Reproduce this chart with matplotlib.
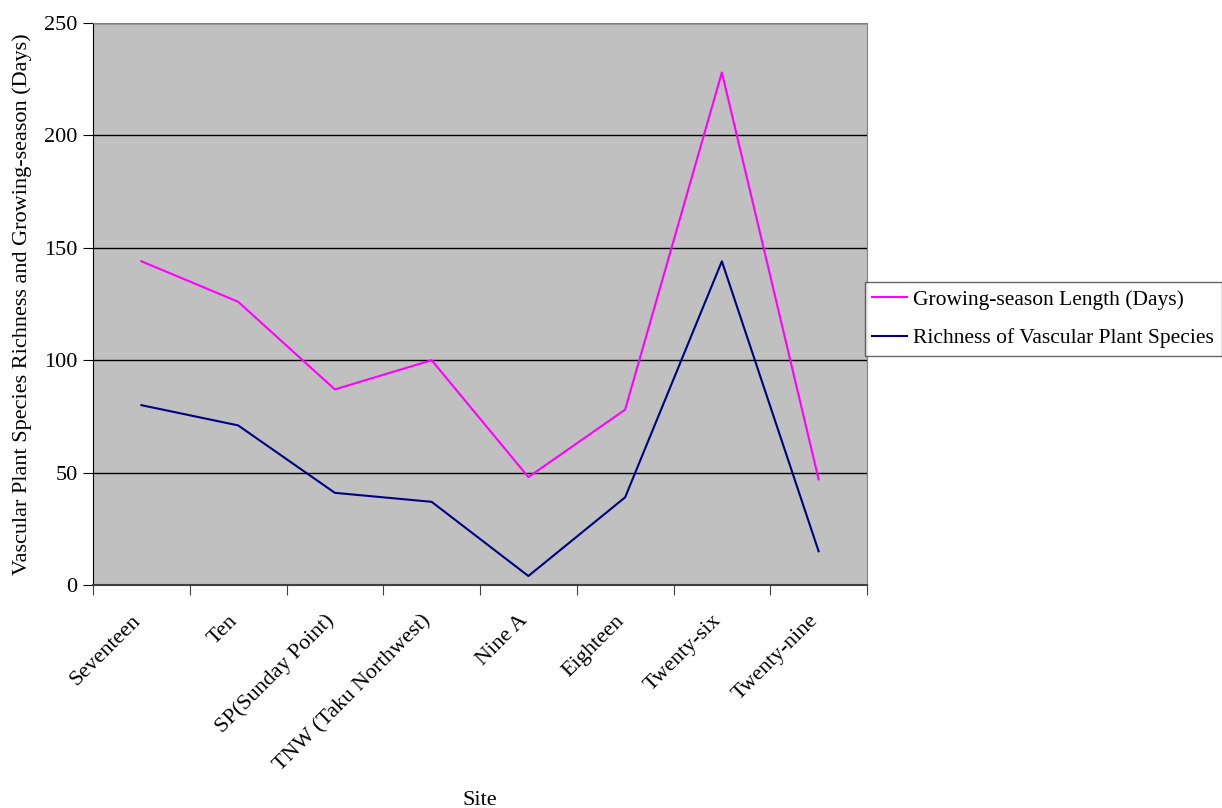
import numpy as np
import matplotlib.pyplot as plt

plt.rcParams['font.family'] = ['Liberation Serif', 'DejaVu Serif']

sites = ["Seventeen", "Ten", "SP(Sunday Point)", "TNW (Taku Northwest)",
         "Nine A", "Eighteen", "Twenty-six", "Twenty-nine"]
growing_season = [144, 126, 87, 100, 48, 78, 228, 47]
richness = [80, 71, 41, 37, 4, 39, 144, 15]

fig = plt.figure(figsize=(12.22, 8.08), dpi=100)
ax = fig.add_axes([93/1222, 1 - 585/808, (867-93)/1222, (585-23)/808])
ax.set_facecolor('#C0C0C0')

x = np.arange(len(sites))
ax.plot(x, growing_season, color='#FF00FF', lw=1.5, label='Growing-season Length (Days)')
ax.plot(x, richness, color='#000080', lw=1.5, label='Richness of Vascular Plant Species')

ax.set_xlim(-0.5, len(sites) - 0.5)
ax.set_ylim(0, 250)
ax.set_yticks(np.arange(0, 251, 50))
ax.yaxis.grid(True, color='black', lw=1)
ax.set_axisbelow(True)

# category ticks sit between the categories, labels under the centers
ax.set_xticks(np.arange(-0.5, len(sites)), minor=False)
ax.set_xticklabels([])
ax.set_xticks(x, minor=True)
ax.set_xticklabels(sites, minor=True, rotation=45, ha='right', va='baseline',
                   rotation_mode='anchor', fontsize=16)
ax.tick_params(axis='x', which='minor', length=0, pad=26)
ax.tick_params(axis='x', which='major', length=7, direction='out', color='#404040')
ax.tick_params(axis='y', length=7, direction='out', labelsize=16, pad=4)

for s in ['top', 'right']:
    ax.spines[s].set_color('#808080')
ax.spines['left'].set_color('black')
ax.spines['bottom'].set_color('#404040')
ax.spines['bottom'].set_linewidth(1.5)

ax.set_ylabel('Vascular Plant Species Richness and Growing-season (Days)', fontsize=16)
ax.yaxis.set_label_coords(-0.079, 0.5)
ax.set_xlabel('Site', fontsize=16)
ax.xaxis.set_label_coords(0.5, -0.366)

leg = ax.legend(loc='center left', bbox_to_anchor=(0.997, 0.473), fontsize=15.5,
                frameon=True, fancybox=False, edgecolor='#404040',
                handlelength=1.6, handletextpad=0.3, borderpad=0.35,
                labelspacing=0.85, borderaxespad=0)
leg.get_frame().set_linewidth(1.0)

fig.savefig('out.png', dpi=100)
